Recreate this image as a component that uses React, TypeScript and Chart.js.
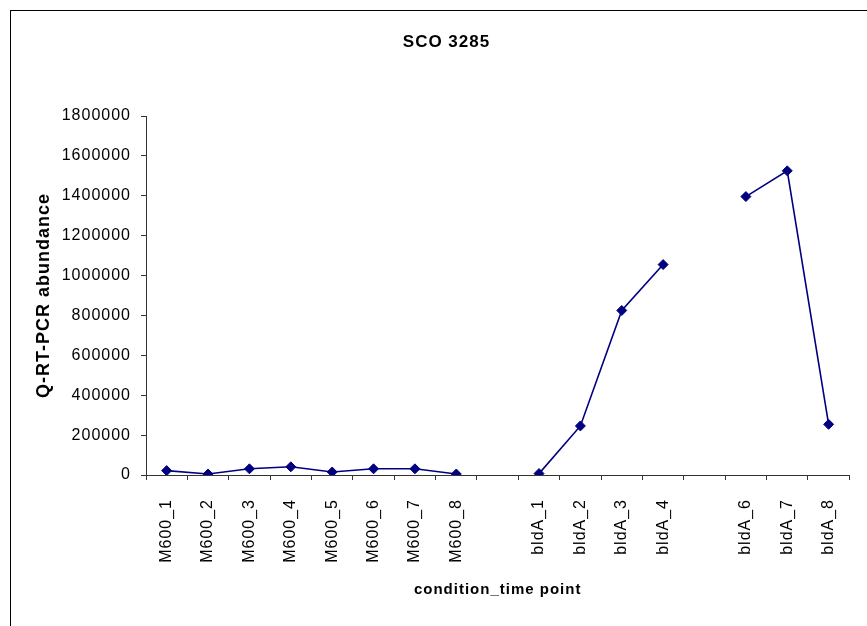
import React, { useEffect, useRef } from "react";
import { Chart, registerables } from "chart.js";

Chart.register(...registerables);

const categories = [
  "M600_1", "M600_2", "M600_3", "M600_4", "M600_5", "M600_6", "M600_7", "M600_8",
  "",
  "bldA_1", "bldA_2", "bldA_3", "bldA_4",
  "",
  "bldA_6", "bldA_7", "bldA_8",
];

const m600Values = [22000, 5000, 31000, 41000, 15000, 31000, 31000, 5000];
const bldAFirst = [7000, 246000, 825000, 1055000];
const bldASecond = [1396000, 1525000, 254000];

const abundance: (number | null)[] = [
  ...m600Values,
  null,
  ...bldAFirst,
  null,
  ...bldASecond,
];

const yMin = 0;
const yMax = 1800000;
const yStep = 200000;

const chartTitle = "SCO 3285";
const xTitle = "condition_time point";
const yTitle = "Q-RT-PCR abundance";

const FONT = "'Liberation Sans', Arial, sans-serif";

const spacingPlugin = {
  id: "letterSpacing",
  beforeUpdate(chart: any) {
    (chart.ctx as any).letterSpacing = "1px";
  },
  beforeDraw(chart: any) {
    (chart.ctx as any).letterSpacing = "1px";
  },
};

export default function App() {
  const canvasRef = useRef<HTMLCanvasElement | null>(null);

  useEffect(() => {
    if (!canvasRef.current) return;
    const chart = new Chart(canvasRef.current, {
      type: "line",
      data: {
        labels: categories,
        datasets: [
          {
            data: abundance,
            borderColor: "#000080",
            backgroundColor: "#000080",
            borderWidth: 1.6,
            pointStyle: "rectRot",
            pointRadius: 5,
            pointBorderWidth: 1,
            pointBackgroundColor: "#000080",
            pointBorderColor: "#000080",
            spanGaps: false,
            tension: 0,
            fill: false,
          },
        ],
      },
      options: {
        animation: false,
        responsive: false,
        maintainAspectRatio: false,
        devicePixelRatio: 1,
        layout: { padding: { left: 32, right: 6, top: 0, bottom: 27 } },
        plugins: {
          legend: { display: false },
          tooltip: { enabled: false },
          title: {
            display: true,
            text: chartTitle,
            color: "#000",
            font: { family: FONT, size: 17, weight: "bold" },
            padding: { top: 32, bottom: 63.6 },
          },
        },
        scales: {
          x: {
            type: "category",
            offset: true,
            grid: {
              display: true,
              offset: true,
              drawOnChartArea: false,
              drawTicks: true,
              tickLength: 5,
              color: "#333",
            },
            border: { display: true, color: "#333", width: 1 },
            ticks: {
              autoSkip: false,
              maxRotation: 90,
              minRotation: 90,
              padding: 19,
              color: "#000",
              font: { family: FONT, size: 16 },
            },
            title: {
              display: true,
              text: xTitle,
              color: "#000",
              padding: { top: 0, bottom: 0 },
              font: { family: FONT, size: 15, weight: "bold" },
            },
            afterFit(scale: any) {
              scale.height = 124;
            },
          },
          y: {
            min: yMin,
            max: yMax,
            grid: {
              display: true,
              drawOnChartArea: false,
              drawTicks: true,
              tickLength: 5,
              color: "#333",
            },
            border: { display: true, color: "#333", width: 1 },
            ticks: {
              stepSize: yStep,
              padding: 10,
              color: "#000",
              font: { family: FONT, size: 16 },
              callback: (v: any) => String(v),
            },
            title: {
              display: true,
              text: yTitle,
              color: "#000",
              padding: { top: 1, bottom: 0 },
              font: { family: FONT, size: 18, weight: "bold" },
            },
            afterFit(scale: any) {
              scale.width = 114;
            },
          },
        },
      },
      plugins: [spacingPlugin],
    });
    return () => chart.destroy();
  }, []);

  return (
    <div
      style={{
        position: "fixed",
        left: 0,
        top: 0,
        width: 867,
        height: 626,
        overflow: "hidden",
        background: "#fff",
      }}
    >
      <div
        style={{
          position: "absolute",
          left: 10,
          top: 10,
          width: 880,
          height: 640,
          border: "1px solid #000",
        }}
      />
      <canvas
        ref={canvasRef}
        width={867}
        height={626}
        style={{ position: "absolute", left: 0, top: 0, width: 867, height: 626 }}
      />
    </div>
  );
}
